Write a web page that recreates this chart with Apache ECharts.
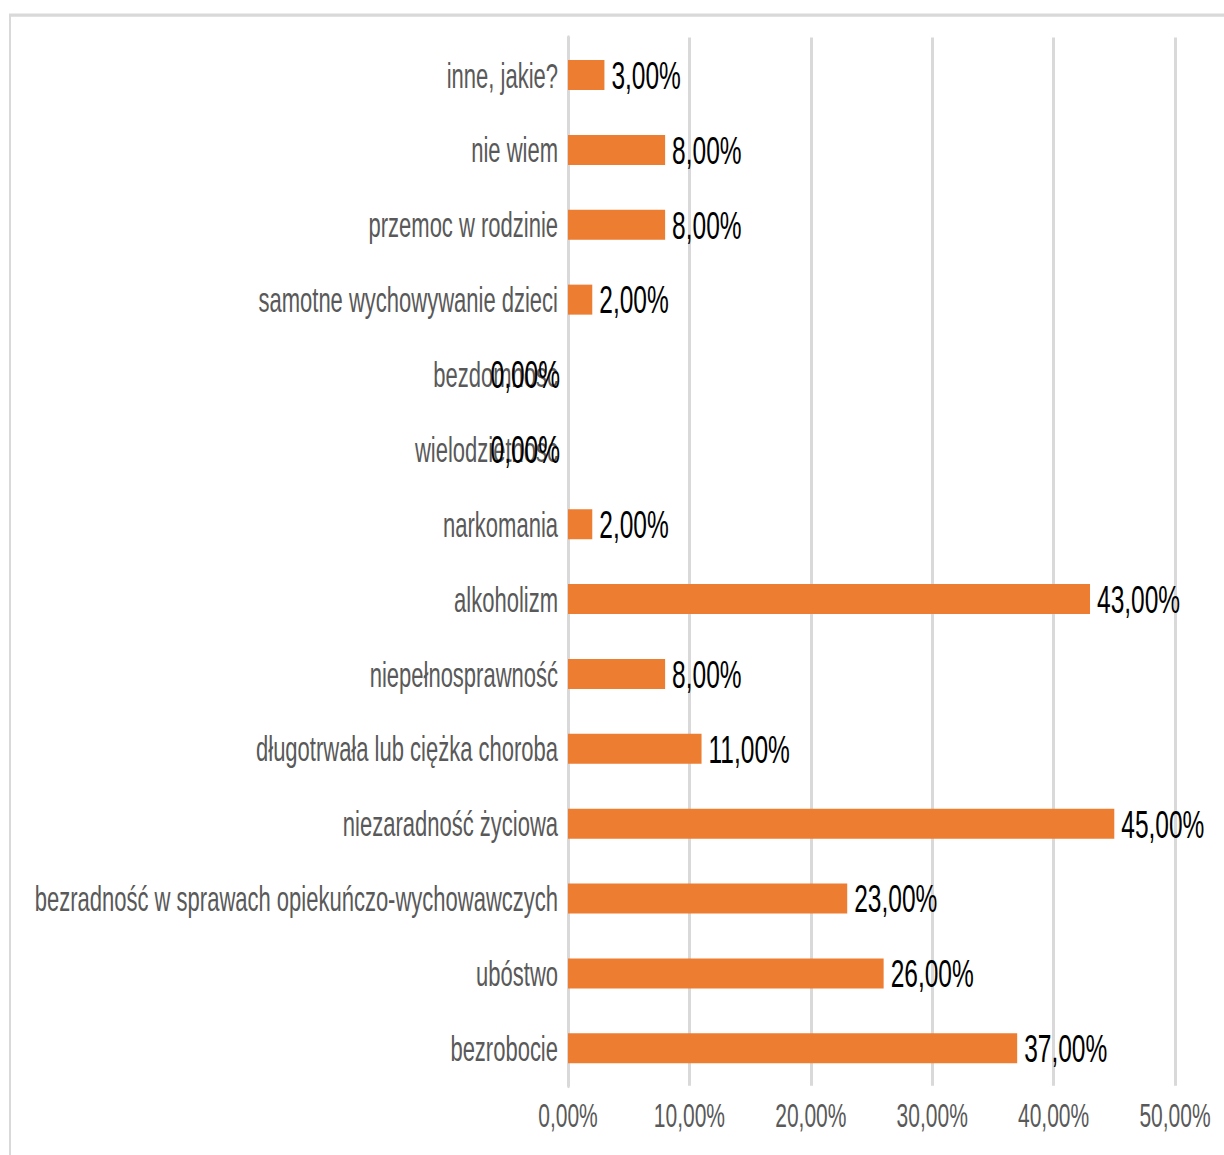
<!DOCTYPE html>
<html>
<head>
<meta charset="utf-8">
<script src="https://cdn.jsdelivr.net/npm/echarts@6/dist/echarts.min.js"></script>
<style>
html,body{margin:0;padding:0;background:#fff;overflow:hidden;}
#wrap{width:1224px;height:1155px;position:relative;overflow:hidden;}
#chart{width:1224px;height:722px;position:absolute;left:0;top:0;transform:scaleY(1.6);transform-origin:0 0;}
</style>
</head>
<body>
<div id="wrap"><div id="chart"></div></div>
<script>
// Categories, bottom to top (as in the source chart)
const categories = [
  'bezrobocie',
  'ubóstwo',
  'bezradność w sprawach opiekuńczo-wychowawczych',
  'niezaradność życiowa',
  'długotrwała lub ciężka choroba',
  'niepełnosprawność',
  'alkoholizm',
  'narkomania',
  'wielodzietność',
  'bezdomność',
  'samotne wychowywanie dzieci',
  'przemoc w rodzinie',
  'nie wiem',
  'inne, jakie?'
];
const values = [37, 26, 23, 45, 11, 8, 43, 2, 0, 0, 2, 8, 8, 3];
const xTicks = [0, 10, 20, 30, 40, 50];

const fmt = v => Number(v).toFixed(2).replace('.', ',') + '%';
const FONT = "'Liberation Sans', Arial, sans-serif";

const seriesData = values.map(v => v === 0
  ? { value: v, label: { position: 'left', distance: 8 } }
  : { value: v });

const chart = echarts.init(document.getElementById('chart'), null, { renderer: 'svg' });
chart.setOption({
  animation: false,
  backgroundColor: '#fff',
  graphic: [{
    type: 'rect',
    shape: { x: 10, y: 9.5, width: 1400, height: 900 },
    style: { fill: 'none', stroke: '#d9d9d9', lineWidth: 2 },
    silent: true
  }],
  grid: { left: 568, right: 49, top: 23.5, bottom: 43.4, containLabel: false },
  xAxis: {
    type: 'value',
    min: xTicks[0],
    max: xTicks[xTicks.length - 1],
    interval: xTicks[1] - xTicks[0],
    axisLine: { show: false },
    axisTick: { show: false },
    splitLine: { show: true, lineStyle: { color: '#d9d9d9', width: 3 } },
    axisLabel: {
      formatter: fmt, color: '#595959', fontSize: 21, fontFamily: FONT, margin: 8
    }
  },
  yAxis: {
    type: 'category',
    data: categories,
    axisLine: { show: true, lineStyle: { color: '#d9d9d9', width: 3 } },
    axisTick: { show: false },
    axisLabel: { color: '#595959', fontSize: 22, fontFamily: FONT, margin: 10 }
  },
  series: [{
    type: 'bar',
    data: seriesData,
    barWidth: 18.75,
    itemStyle: { color: '#ED7D31' },
    label: {
      show: true,
      position: 'right',
      distance: 7,
      formatter: p => fmt(p.value),
      color: '#000',
      fontSize: 24.5,
      fontFamily: FONT
    }
  }]
});
</script>
</body>
</html>
